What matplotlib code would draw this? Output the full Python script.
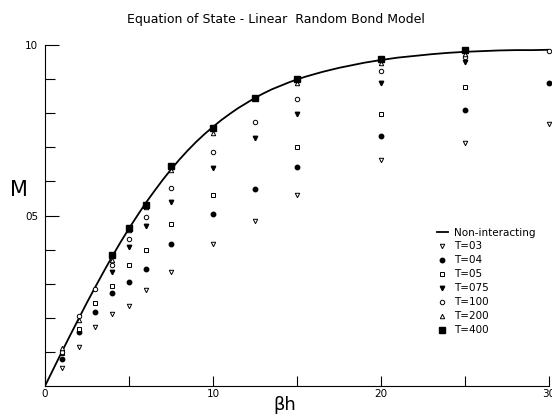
import matplotlib
matplotlib.use("Agg")
import matplotlib.pyplot as plt
from matplotlib.lines import Line2D

# Non-interacting curve
curve_x = [0.0, 0.05, 0.1, 0.15, 0.2, 0.25, 0.3, 0.35, 0.4, 0.45, 0.5, 0.55, 0.6, 0.65, 0.7,
           0.75, 0.8, 0.85, 0.9, 0.95, 1.0, 1.05, 1.1, 1.15, 1.2, 1.25, 1.3, 1.35, 1.4, 1.45,
           1.5, 1.55, 1.6, 1.65, 1.7, 1.75, 1.8, 1.85, 1.9, 1.95, 2.0, 2.1, 2.2, 2.3, 2.4,
           2.5, 2.6, 2.7, 2.8, 2.9, 3.0]
curve_m = [0.0, 0.050, 0.100, 0.149, 0.197, 0.245, 0.291, 0.336, 0.380, 0.422, 0.462, 0.500,
           0.537, 0.571, 0.604, 0.635, 0.664, 0.691, 0.716, 0.739, 0.760, 0.780, 0.798, 0.815,
           0.830, 0.845, 0.858, 0.870, 0.880, 0.890, 0.899, 0.907, 0.914, 0.921, 0.927, 0.933,
           0.938, 0.943, 0.948, 0.952, 0.956, 0.963, 0.968, 0.973, 0.977, 0.980, 0.982, 0.984,
           0.985, 0.985, 0.986]

# Data series
t03_x = [0.1, 0.2, 0.3, 0.4, 0.5, 0.6, 0.75, 1.0, 1.25, 1.5, 2.0, 2.5, 3.0]
t03_m = [0.054, 0.115, 0.174, 0.210, 0.235, 0.282, 0.335, 0.415, 0.484, 0.560, 0.663, 0.714, 0.767]

t04_x = [0.1, 0.2, 0.3, 0.4, 0.5, 0.6, 0.75, 1.0, 1.25, 1.5, 2.0, 2.5, 3.0]
t04_m = [0.078, 0.157, 0.218, 0.272, 0.306, 0.342, 0.415, 0.503, 0.577, 0.643, 0.733, 0.809, 0.888]

t05_x = [0.1, 0.2, 0.3, 0.4, 0.5, 0.6, 0.75, 1.0, 1.5, 2.0, 2.5]
t05_m = [0.096, 0.166, 0.244, 0.294, 0.355, 0.399, 0.474, 0.559, 0.702, 0.797, 0.878]

t075_x = [0.4, 0.5, 0.6, 0.75, 1.0, 1.25, 1.5, 2.0, 2.5]
t075_m = [0.335, 0.407, 0.468, 0.541, 0.640, 0.726, 0.797, 0.889, 0.951]

t100_x = [0.1, 0.2, 0.3, 0.4, 0.5, 0.6, 0.75, 1.0, 1.25, 1.5, 2.0, 2.5, 3.0]
t100_m = [0.100, 0.206, 0.284, 0.355, 0.431, 0.497, 0.582, 0.687, 0.775, 0.841, 0.924, 0.966, 0.983]

t200_x = [0.1, 0.2, 0.4, 0.5, 0.6, 0.75, 1.0, 1.5, 2.0, 2.5]
t200_m = [0.110, 0.194, 0.370, 0.457, 0.524, 0.633, 0.743, 0.888, 0.948, 0.974]

t400_x = [0.4, 0.5, 0.6, 0.75, 1.0, 1.25, 1.5, 2.0, 2.5]
t400_m = [0.384, 0.463, 0.531, 0.645, 0.758, 0.844, 0.899, 0.959, 0.985]

labels = ["Non-interacting", "T=03", "T=04", "T=05", "T=075", "T=100", "T=200", "T=400"]
x_ticks = [0.0, 1.0, 2.0, 3.0]
x_ticklabels = ["0", "10", "20", "30"]
y_ticks = [0.5, 1.0]
y_ticklabels = ["05", "10"]

plt.rcParams['font.family'] = ['DejaVu Sans']

fig = plt.figure(figsize=(5.52, 4.16), dpi=100)
ax = fig.add_axes([45/552, 1 - 386/416, (549 - 45)/552, (386 - 45)/416])

ax.plot(curve_x, curve_m, color='black', lw=1.3, zorder=3, solid_joinstyle='round')

ms = 3.2
series = [
    (t03_x, t03_m, dict(marker='v', mfc='white', mec='black', ms=ms, mew=0.7)),
    (t04_x, t04_m, dict(marker='o', mfc='black', mec='black', ms=ms)),
    (t05_x, t05_m, dict(marker='s', mfc='white', mec='black', ms=ms, mew=0.7)),
    (t075_x, t075_m, dict(marker='v', mfc='black', mec='black', ms=ms)),
    (t100_x, t100_m, dict(marker='o', mfc='white', mec='black', ms=ms, mew=0.7)),
    (t200_x, t200_m, dict(marker='^', mfc='white', mec='black', ms=ms, mew=0.7)),
    (t400_x, t400_m, dict(marker='s', mfc='black', mec='black', ms=ms + 0.6)),
]
handles = [Line2D([], [], color='black', lw=1.3)]
for xs, ms_, st in series:
    ax.plot(xs, ms_, ls='none', zorder=4, clip_on=False, **st)
    handles.append(Line2D([], [], ls='none', **st))

ax.set_xlim(0, 3.0)
ax.set_ylim(0, 1.0)
for s in ['top', 'right']:
    ax.spines[s].set_visible(False)
for s in ['left', 'bottom']:
    ax.spines[s].set_linewidth(0.8)

ax.set_xticks(x_ticks)
ax.set_xticklabels(x_ticklabels)
ax.set_xticks([0.5, 1.5, 2.5], minor=True)
ax.set_yticks(y_ticks)
ax.set_yticklabels(y_ticklabels)
ax.set_yticks([0.1, 0.2, 0.3, 0.4, 0.6, 0.7, 0.8, 0.9], minor=True)
ax.tick_params(axis='both', which='both', direction='in', width=0.8, labelsize=7.5)
ax.tick_params(axis='x', which='both', length=7, pad=2)
ax.tick_params(axis='y', which='major', length=10, pad=5)
ax.tick_params(axis='y', which='minor', length=7)

ax.set_ylabel("M", fontsize=15, rotation=0, va='center', ha='center')
ax.yaxis.set_label_coords(-0.052, 0.575)
ax.set_xlabel("βh", fontsize=13, va='center')
ax.xaxis.set_label_coords(0.475, -0.056)

fig.text(0.50, 0.952, "Equation of State - Linear  Random Bond Model",
         ha='center', va='center', fontsize=9)

ax.legend(handles, labels, loc='upper left', bbox_to_anchor=(0.77, 0.477),
          frameon=False, fontsize=7.5, handlelength=1.0, handletextpad=0.6,
          labelspacing=0.38, borderaxespad=0)

fig.savefig("out.png", dpi=100)
